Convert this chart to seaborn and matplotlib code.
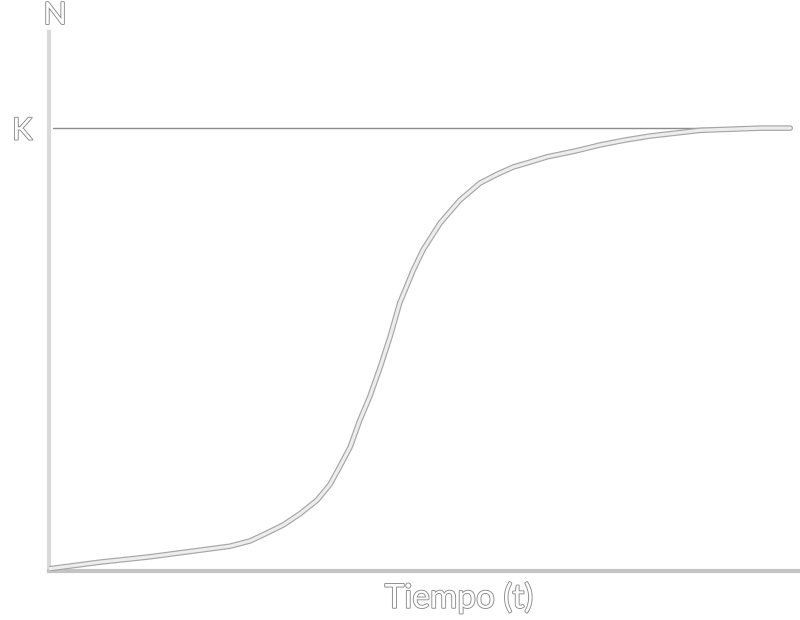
import matplotlib
matplotlib.use("Agg")
import matplotlib.pyplot as plt
import matplotlib.patheffects as pe
import seaborn as sns
import pandas as pd

# Logistic growth curve: time (t) and population N (K = 100)
tiempo = [0.0, 6.8, 13.4, 20.1, 24.1, 26.8, 28.8, 31.2, 33.4, 35.7, 37.4, 38.7,
          40.1, 41.4, 42.7, 44.1, 45.4, 46.7, 48.5, 49.8, 52.1, 54.7, 57.4, 59.7,
          61.8, 64.0, 66.3, 70.0, 73.4, 76.7, 80.0, 86.7, 94.7, 98.7]
poblacion = [0.5, 2.0, 3.2, 4.7, 5.6, 6.8, 8.4, 10.4, 12.9, 16.0, 19.5, 23.5,
             28.0, 34.1, 39.3, 46.0, 52.8, 60.5, 67.9, 72.5, 78.6, 83.7, 87.6, 89.6,
             91.2, 92.3, 93.5, 94.8, 96.2, 97.3, 98.2, 99.5, 100.0, 100.0]
capacidad_K = 100.0
etiqueta_y = "N"
etiqueta_x = "Tiempo (t)"
etiqueta_K = "K"

df = pd.DataFrame({"t": tiempo, "N": poblacion})

sns.set_theme(style="white")
plt.rcParams['font.family'] = ['Lato', 'DejaVu Sans']

fig = plt.figure(figsize=(8, 6.2), dpi=100)
ax = fig.add_axes([49 / 800, 1 - 571 / 620, 751 / 800, (571 - 32) / 620])

emboss = [pe.withStroke(linewidth=1.3, foreground="#8a8a8a")]

# Carrying capacity line
ax.axhline(capacidad_K, xmin=0.005, xmax=0.87, color="#8c8c8c", lw=1.0, zorder=2)
ax.axhline(capacidad_K, xmin=0.87, xmax=0.99, color="#dcdcdc", lw=1.5, zorder=2)

# Curve: gray outline with light fill for embossed look
sns.lineplot(data=df, x="t", y="N", ax=ax, color="#a6a6a6", lw=4.0, zorder=3,
             estimator=None, sort=False, solid_joinstyle="round",
             solid_capstyle="round")
sns.lineplot(data=df, x="t", y="N", ax=ax, color="#ededed", lw=2.3, zorder=4,
             estimator=None, sort=False, solid_joinstyle="round",
             solid_capstyle="round")

ax.set_xlim(0, 100)
ax.set_ylim(0, 121.7)
ax.set_xticks([])
ax.set_yticks([capacidad_K])
ax.set_yticklabels([etiqueta_K])
ax.tick_params(axis="y", length=0, pad=12)
for lab in ax.get_yticklabels():
    lab.set_fontsize(22)
    lab.set_color("white")
    lab.set_path_effects(emboss)

for s in ["top", "right"]:
    ax.spines[s].set_visible(False)
ax.spines["left"].set_color("#d9d9d9")
ax.spines["left"].set_linewidth(3)
ax.spines["bottom"].set_color("#c4c4c4")
ax.spines["bottom"].set_linewidth(3)

ax.set_xlabel(etiqueta_x, fontsize=24, color="white", path_effects=emboss)
ax.xaxis.set_label_coords((459 - 49) / 751, -(598 - 571) / 539, transform=ax.transAxes)
ax.xaxis.label.set_va("center")
ax.set_ylabel("")
fig.text(55 / 800, 1 - 15 / 620, etiqueta_y, fontsize=22, color="white",
         ha="center", va="center", path_effects=emboss)

fig.savefig("out.png", dpi=100, facecolor="white")
